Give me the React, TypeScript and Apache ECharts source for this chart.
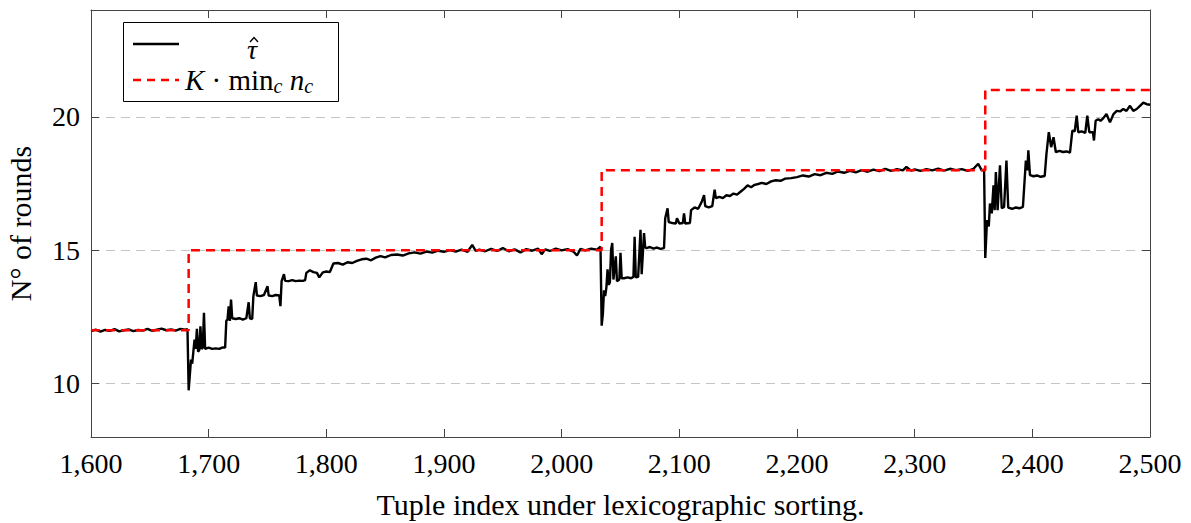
import React, { useEffect, useRef } from "react";
import * as echarts from "echarts";

// x-axis ticks and y-axis ticks
const xTicks = [1600, 1700, 1800, 1900, 2000, 2100, 2200, 2300, 2400, 2500];
const yTicks = [10, 15, 20];

// K * min_c n_c (step function): index, value
const boundIndex = [1600, 1683, 1683, 2034, 2034, 2360, 2360, 2500];
const boundValue = [12, 12, 15, 15, 18, 18, 21, 21];

// tau-hat, segment by segment: [tuple index, rounds]
const tauSeg1 = [
  [1600, 11.97], [1604, 12.02], [1608, 11.95], [1612, 12.01], [1616, 11.98], [1620, 12.04],
  [1624, 11.96], [1628, 12.0], [1632, 12.03], [1636, 11.97], [1640, 12.01], [1644, 11.99],
  [1648, 12.05], [1652, 11.98], [1656, 12.02], [1660, 12.06], [1664, 12.0], [1668, 12.03],
  [1672, 11.99], [1676, 12.05], [1680, 12.02], [1682, 12.04],
];
const tauSeg2 = [
  [1683, 9.75], [1685, 10.9], [1686, 10.75], [1687, 11.2], [1688, 11.65], [1689, 11.3],
  [1690, 12.05], [1691, 11.2], [1692, 11.25], [1693, 12.15], [1694, 11.3], [1695, 11.35],
  [1696, 12.65], [1697, 11.3], [1700, 11.35], [1703, 11.3], [1706, 11.32], [1709, 11.3],
  [1712, 11.36], [1714, 11.35], [1715, 12.35], [1716, 12.4], [1717, 12.9], [1718, 12.35],
  [1719, 13.15], [1720, 12.45], [1723, 12.42], [1726, 12.45], [1729, 12.4], [1732, 12.45],
  [1734, 13.05], [1735, 12.45], [1737, 12.42], [1738, 13.28], [1740, 13.8], [1741, 13.3],
  [1744, 13.28], [1747, 13.32], [1750, 13.65], [1751, 13.3], [1754, 13.28], [1757, 13.32],
  [1760, 13.3], [1761, 12.9], [1762, 13.84], [1764, 14.1], [1765, 13.85], [1768, 13.84],
  [1771, 13.88], [1774, 13.84], [1777, 13.86], [1780, 13.85], [1782, 13.88],
];
const tauSeg3 = [
  [1783, 14.15], [1786, 14.25], [1789, 14.18], [1792, 14.15], [1794, 13.98], [1797, 14.17],
  [1800, 14.2], [1803, 14.18], [1806, 14.5], [1810, 14.52], [1814, 14.46], [1818, 14.55],
  [1822, 14.52], [1826, 14.6], [1830, 14.66], [1834, 14.68], [1838, 14.62], [1842, 14.72],
  [1846, 14.78], [1850, 14.73], [1855, 14.82], [1860, 14.84], [1865, 14.8], [1870, 14.88],
  [1875, 14.92], [1880, 14.87], [1885, 14.95], [1890, 14.91], [1895, 14.98], [1900, 14.94],
  [1905, 15.0], [1910, 14.95], [1915, 15.02], [1920, 14.94], [1924, 15.2], [1927, 14.97],
  [1930, 15.02], [1935, 14.96], [1940, 15.05], [1945, 14.97], [1950, 15.08], [1955, 14.96],
  [1960, 15.03], [1965, 14.92], [1970, 15.04], [1975, 14.98], [1980, 15.06], [1983, 14.85],
  [1986, 15.03], [1990, 14.97], [1995, 15.06], [2000, 14.99], [2005, 15.04], [2010, 14.95],
  [2013, 14.8], [2016, 15.05], [2020, 14.99], [2025, 15.06], [2030, 15.02], [2033, 15.13],
];
const tauSeg4 = [
  [2034, 12.17], [2035, 12.6], [2036, 13.5], [2037, 13.28], [2038, 13.6], [2039, 14.28],
  [2040, 13.7], [2041, 13.8], [2042, 15.02], [2043, 15.27], [2044, 13.9], [2046, 14.77],
  [2047, 13.84], [2049, 13.9], [2050, 14.9], [2051, 13.95], [2053, 13.95], [2056, 13.98],
  [2059, 13.95], [2061, 14.0], [2062, 15.5], [2063, 13.98], [2065, 14.0], [2067, 15.76],
  [2068, 14.1], [2070, 15.64], [2071, 15.1], [2072, 15.08], [2075, 15.12], [2078, 15.06],
  [2081, 15.1], [2084, 15.05], [2087, 15.08], [2088, 16.2], [2090, 16.57], [2091, 16.05],
  [2094, 16.02], [2097, 16.0], [2098, 16.2], [2100, 16.0], [2103, 16.02], [2104, 16.38],
  [2105, 16.0], [2109, 16.02], [2110, 16.5], [2113, 16.6], [2116, 16.55], [2119, 16.81],
  [2121, 17.06], [2122, 16.65], [2125, 16.6], [2128, 16.65], [2130, 17.27], [2131, 16.95],
  [2134, 17.0], [2137, 16.95], [2140, 17.06], [2143, 17.03], [2146, 17.12], [2149, 17.08],
  [2152, 17.19], [2155, 17.3], [2158, 17.43], [2161, 17.36], [2164, 17.45], [2167, 17.48],
  [2170, 17.52], [2174, 17.48], [2178, 17.58], [2182, 17.62], [2186, 17.6], [2190, 17.68],
  [2195, 17.7], [2200, 17.74], [2205, 17.8], [2210, 17.76], [2215, 17.85], [2220, 17.81],
  [2225, 17.9], [2230, 17.86], [2235, 17.95], [2240, 17.9], [2245, 17.97], [2250, 17.92],
  [2255, 18.0], [2260, 17.94], [2265, 18.02], [2270, 17.96], [2275, 18.05], [2280, 17.97],
  [2285, 18.04], [2290, 17.99], [2293, 18.12], [2297, 17.98], [2300, 18.03], [2305, 17.97],
  [2310, 18.04], [2315, 17.99], [2320, 18.06], [2325, 17.98], [2330, 18.05], [2335, 18.0],
  [2340, 18.04], [2345, 17.97], [2350, 18.05], [2354, 18.24], [2357, 17.99], [2359, 18.02],
];
const tauSeg5 = [
  [2360, 14.71], [2361.5, 16.13], [2363, 15.89], [2364, 16.75], [2365.5, 16.38], [2367, 17.43],
  [2368, 16.5], [2369, 17.93], [2370.5, 16.5], [2372.5, 18.18], [2374, 16.57], [2376, 16.62],
  [2378, 18.36], [2379.5, 16.6], [2383, 16.55], [2386, 16.6], [2389, 16.57], [2392, 16.62],
  [2394.5, 18.36], [2395.8, 17.99], [2396.6, 18.74], [2398, 17.81], [2401, 17.77], [2404, 17.8],
  [2407, 17.75], [2410.5, 17.78], [2412, 18.61], [2414, 19.42], [2416, 18.86], [2418, 19.23],
  [2420, 18.67], [2423, 18.72], [2426, 18.68], [2429, 18.7], [2432, 18.66], [2434, 19.48],
  [2436, 19.45], [2437.7, 20.04], [2439, 19.42], [2442, 19.45], [2445, 19.4], [2446.7, 20.04],
  [2448.4, 19.42], [2451.5, 19.42], [2452.4, 19.11], [2453.8, 19.85], [2456, 19.91], [2458, 19.85],
  [2460, 19.93], [2463, 20.1], [2466, 19.79], [2469, 20.1], [2471.7, 20.22], [2474.5, 20.2],
  [2477.3, 20.29], [2480, 20.22], [2483, 20.41], [2485.8, 20.22], [2488.7, 20.29], [2491.5, 20.41],
  [2494.3, 20.53], [2497.2, 20.47], [2500, 20.45],
];

const tauName = "τ̂";
const boundName = "K · min_c n_c";
const xTitle = "Tuple index under lexicographic sorting.";
const yTitle = "N° of rounds";

const FONT = "'Liberation Serif', 'DejaVu Serif', serif";

export default function App() {
  const ref = useRef<HTMLDivElement>(null);
  useEffect(() => {
    if (!ref.current) return;
    const chart = echarts.init(ref.current, undefined, { renderer: "svg" });
    const tauData = [...tauSeg1, ...tauSeg2, ...tauSeg3, ...tauSeg4, ...tauSeg5];
    const boundData = boundIndex.map((x, i) => [x, boundValue[i]]);
    const frame = { show: true, lineStyle: { color: "#444", width: 1 } };
    const tick = { show: true, inside: true, length: 8, lineStyle: { color: "#444", width: 1 } };
    const xBase = {
      type: "value",
      min: xTicks[0],
      max: xTicks[xTicks.length - 1],
      interval: 100,
      axisLine: frame,
      splitLine: { show: false },
    };
    const yBase = { type: "value", min: 8, max: 24, axisLine: frame };
    chart.setOption({
      animation: false,
      backgroundColor: "#fff",
      textStyle: { fontFamily: FONT },
      legend: { show: false, data: [tauName, boundName] },
      grid: { left: 91, right: 41, top: 10, bottom: 86, containLabel: false, outerBoundsMode: "none" },
      xAxis: [
        {
          ...xBase,
          position: "bottom",
          axisTick: tick,
          axisLabel: {
            show: true,
            margin: 12,
            fontFamily: FONT,
            fontSize: 28,
            color: "#000",
            showMinLabel: true,
            showMaxLabel: true,
            formatter: (v: number) => v.toLocaleString("en-US"),
          },
          name: xTitle,
          nameLocation: "middle",
          nameGap: 52,
          nameTextStyle: { fontFamily: FONT, fontSize: 30, color: "#000" },
        },
        { ...xBase, position: "top", axisTick: tick, axisLabel: { show: false } },
      ],
      yAxis: [
        {
          ...yBase,
          position: "left",
          axisTick: { ...tick, customValues: yTicks },
          axisLabel: {
            show: true,
            customValues: yTicks,
            margin: 11,
            fontFamily: FONT,
            fontSize: 28,
            color: "#000",
          },
          splitLine: { show: true, lineStyle: { color: "#c4c4c4", width: 1, type: [9, 6] } },
          name: yTitle,
          nameLocation: "middle",
          nameGap: 56,
          nameTextStyle: { fontFamily: FONT, fontSize: 30, color: "#000" },
        },
        {
          ...yBase,
          position: "right",
          axisTick: { ...tick, customValues: yTicks },
          axisLabel: { show: false, customValues: yTicks },
          splitLine: { show: false },
        },
      ],
      graphic: [
        {
          type: "group",
          z: 100,
          children: [
            {
              type: "rect",
              shape: { x: 123.5, y: 22.5, width: 215, height: 79 },
              style: { fill: "#fff", stroke: "#000", lineWidth: 1 },
            },
            {
              type: "line",
              shape: { x1: 133, y1: 44, x2: 179, y2: 44 },
              style: { stroke: "#000", lineWidth: 2.5 },
            },
            {
              type: "line",
              shape: { x1: 133, y1: 80, x2: 179, y2: 80 },
              style: { stroke: "#ff0000", lineWidth: 2.5, lineDash: [8, 6] },
            },
            {
              type: "text",
              x: 252,
              y: 49,
              style: {
                text: "τ",
                fontFamily: FONT,
                fontSize: 28,
                fontStyle: "italic",
                fill: "#000",
                align: "center",
                verticalAlign: "middle",
              },
            },
            {
              type: "polyline",
              shape: { points: [[250, 42], [254, 37.5], [258, 42]] },
              style: { stroke: "#000", lineWidth: 1.4, fill: "none" },
            },
            {
              type: "text",
              x: 185,
              y: 80,
              style: {
                text: "{i|K} · min{s|c} {i|n}{s|c}",
                fontFamily: FONT,
                fontSize: 29,
                fill: "#000",
                align: "left",
                verticalAlign: "middle",
                lineHeight: 32,
                rich: {
                  i: { fontStyle: "italic", fontSize: 29, fontFamily: FONT, lineHeight: 32 },
                  s: { fontStyle: "italic", fontSize: 20, fontFamily: FONT, lineHeight: 22, verticalAlign: "bottom" },
                },
              },
            },
          ],
        },
      ],
      series: [
        {
          name: tauName,
          type: "line",
          data: tauData,
          showSymbol: false,
          symbol: "none",
          lineStyle: { color: "#000", width: 2.4 },
          itemStyle: { color: "#000" },
          z: 2,
        },
        {
          name: boundName,
          type: "line",
          data: boundData,
          showSymbol: false,
          symbol: "none",
          lineStyle: { color: "#ff0000", width: 2.5, type: [9, 6] },
          itemStyle: { color: "#ff0000" },
          z: 3,
        },
      ],
    });
    return () => chart.dispose();
  }, []);
  return (
    <div
      ref={ref}
      style={{ position: "fixed", left: 0, top: 0, width: 1191, height: 523, background: "#fff" }}
    />
  );
}
